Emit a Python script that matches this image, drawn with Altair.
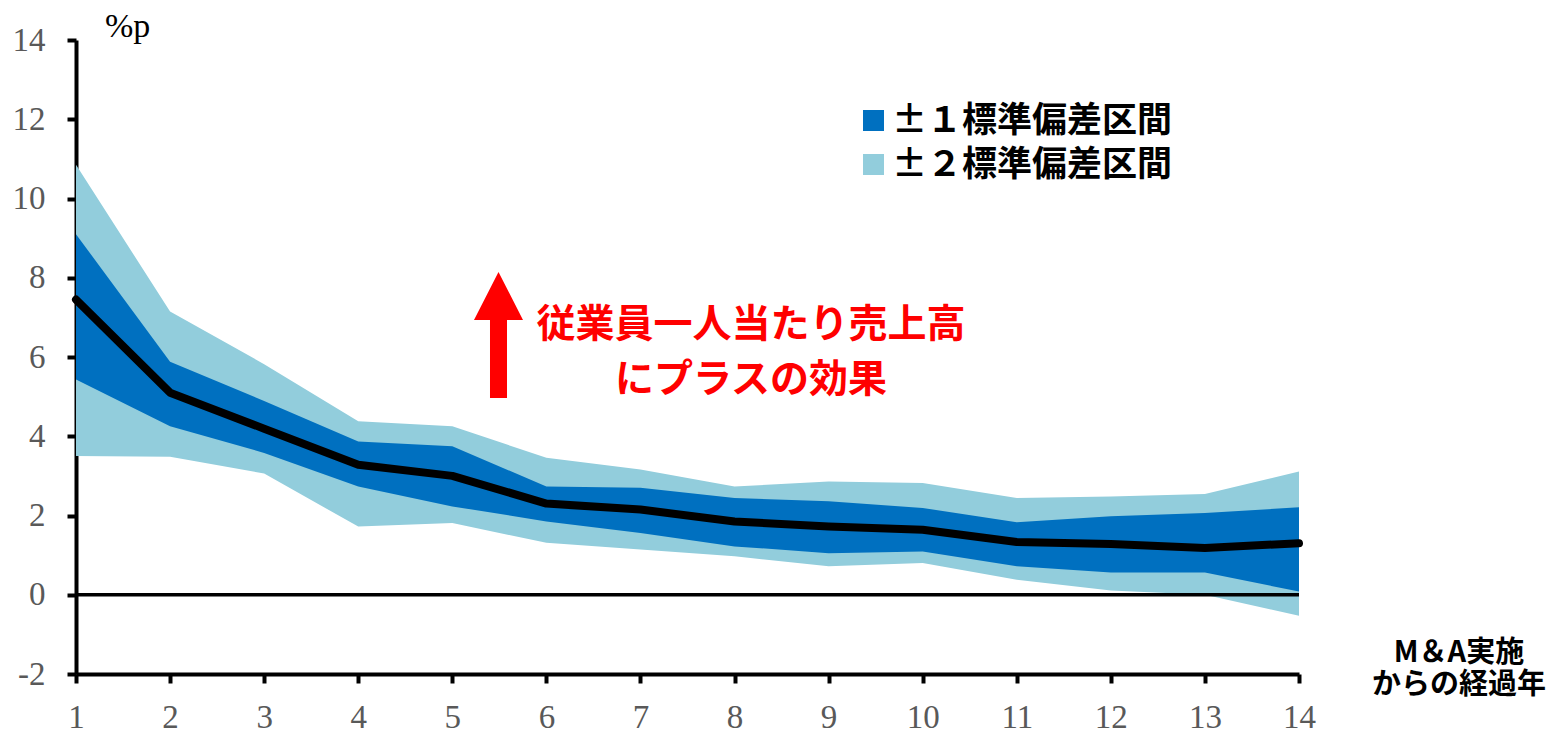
import altair as alt
import pandas as pd

# ---- data ----
years = list(range(1, 15))
center = [7.45, 5.10, 4.19, 3.28, 3.00, 2.30, 2.15, 1.85, 1.72, 1.64, 1.33, 1.28, 1.18, 1.30]
sd1_hi = [9.10, 5.88, 4.89, 3.87, 3.75, 2.73, 2.70, 2.44, 2.36, 2.19, 1.83, 1.98, 2.06, 2.21]
sd1_lo = [5.43, 4.25, 3.58, 2.73, 2.23, 1.85, 1.56, 1.22, 1.05, 1.09, 0.72, 0.56, 0.56, 0.08]
sd2_hi = [10.85, 7.15, 5.82, 4.38, 4.25, 3.46, 3.16, 2.73, 2.86, 2.82, 2.44, 2.48, 2.54, 3.11]
sd2_lo = [3.50, 3.48, 3.06, 1.72, 1.81, 1.31, 1.14, 0.97, 0.72, 0.80, 0.38, 0.11, 0.00, -0.53]

band_names = ["±１標準偏差区間", "±２標準偏差区間"]
band_colors = ["#0070C0", "#92CDDC"]
y_ticks = [-2, 0, 2, 4, 6, 8, 10, 12, 14]

annot_lines = ["従業員一人当たり売上高", "にプラスの効果"]
xtitle_lines = ["M＆A実施", "からの経過年"]
unit_label = "%p"

# ---- tables ----
bands = pd.DataFrame(
    [{"year": y, "band": band_names[0], "lo": l, "hi": h} for y, l, h in zip(years, sd1_lo, sd1_hi)]
    + [{"year": y, "band": band_names[1], "lo": l, "hi": h} for y, l, h in zip(years, sd2_lo, sd2_hi)]
)
line_df = pd.DataFrame({"year": years, "value": center})
one = pd.DataFrame({"k": [1]})

W, H = 1223, 634
TICK_FONT = "Liberation Serif"
JP_FONT = "Noto Sans CJK JP"

x_enc = alt.X(
    "year:Q",
    scale=alt.Scale(domain=[1, 14], nice=False, zero=False),
    axis=alt.Axis(
        values=years, title=None, grid=False, format="d", labelFlush=False,
        labelFont=TICK_FONT, labelFontSize=33, labelColor="#595959",
        labelPadding=18, domainColor="black", domainWidth=4,
        tickColor="black", tickWidth=4, tickSize=9,
    ),
)
y_scale = alt.Scale(domain=[-2, 14], nice=False, zero=False)
y_axis = alt.Axis(
    values=y_ticks, title=None, grid=False, labelExpr="'' + datum.value",
    labelFont=TICK_FONT, labelFontSize=33, labelColor="#595959",
    labelPadding=22, domainColor="black", domainWidth=4,
    tickColor="black", tickWidth=4, tickSize=9,
)
color_enc = alt.Color(
    "band:N",
    scale=alt.Scale(domain=band_names, range=band_colors),
    legend=alt.Legend(
        orient="none", legendX=780, legendY=63, title=None,
        symbolType="square", symbolSize=441, symbolStrokeWidth=0, symbolOpacity=1,
        labelFont=JP_FONT, labelFontSize=35, labelFontWeight="bold", labelColor="black",
        labelOffset=1, rowPadding=8, padding=0, labelLimit=0,
    ),
)

base = alt.Chart(bands)
area2 = base.transform_filter(alt.datum.band == band_names[1]).mark_area(opacity=1).encode(
    x=x_enc, y=alt.Y("lo:Q", scale=y_scale, axis=y_axis), y2="hi:Q", color=color_enc
)
area1 = base.transform_filter(alt.datum.band == band_names[0]).mark_area(opacity=1).encode(
    x=x_enc, y=alt.Y("lo:Q", scale=y_scale, axis=y_axis), y2="hi:Q", color=color_enc
)

zero_rule = alt.Chart(pd.DataFrame({"z": [0]})).mark_rule(color="black", strokeWidth=3.5).encode(
    y=alt.Y("z:Q", scale=y_scale)
)

center_line = alt.Chart(line_df).mark_line(
    color="black", strokeWidth=8, strokeCap="round", strokeJoin="round"
).encode(x=alt.X("year:Q"), y=alt.Y("value:Q", scale=y_scale))

# arrow (custom path, unit box -1..1)
arrow_path = "M-0.135,1L0.135,1L0.135,-0.238L0.389,-0.238L0,-1L-0.389,-0.238L-0.135,-0.238Z"
arrow = alt.Chart(one).mark_point(
    shape=arrow_path, filled=True, size=126 * 126, color="#FF0000", opacity=1, strokeWidth=0
).encode(x=alt.value(422.5), y=alt.value(295))

annot = alt.Chart(one).mark_text(
    font=JP_FONT, fontSize=39, fontWeight="bold", color="#FF0000",
    align="center", baseline="middle", lineHeight=55,
).encode(x=alt.value(675), y=alt.value(285), text=alt.value(annot_lines))

xtitle = alt.Chart(one).mark_text(
    font=JP_FONT, fontSize=29, fontWeight="bold", color="black",
    align="center", baseline="middle", lineHeight=32,
).encode(x=alt.value(1383), y=alt.value(613), text=alt.value(xtitle_lines))

unit = alt.Chart(one).mark_text(
    font=TICK_FONT, fontSize=34, color="black", align="left", baseline="alphabetic"
).encode(x=alt.value(29), y=alt.value(-3), text=alt.value(unit_label))

chart = alt.layer(area2, area1, zero_rule, center_line, arrow, annot, xtitle, unit).properties(
    width=W, height=H,
    autosize=alt.AutoSizeParams(type="none"),
    padding={"left": 76, "top": 40, "right": 248, "bottom": 61},
    background="white",
).configure_view(stroke=None)

chart.save("out.html", embed_options={"renderer": "svg", "actions": False})
